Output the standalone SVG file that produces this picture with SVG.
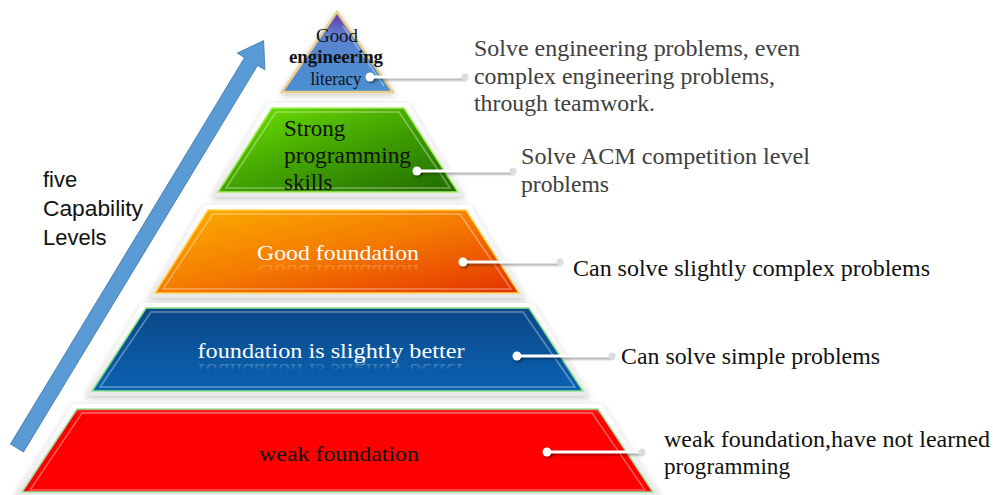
<svg xmlns="http://www.w3.org/2000/svg" width="993" height="495" viewBox="0 0 993 495">
  <defs>
    <style>
      .serif { font-family: "Liberation Serif", "Times New Roman", serif; }
      .sans { font-family: "Liberation Sans", Arial, sans-serif; }
      .plate { fill: url(#plateGrad); filter: url(#plateShadow); }
      .bevel { fill: none; stroke: #ffffff; stroke-opacity: 0.35; stroke-width: 1.5; }
      .note { font-size: 23px; fill: #404040; }
      .noteDark { font-size: 23px; fill: #111111; }
      .link { stroke: #ffffff; stroke-width: 3; stroke-linecap: round; }
      .linkShade { stroke: #000000; stroke-opacity: 0.35; stroke-width: 3; stroke-linecap: round; filter: url(#soft); }
      .dotA { fill: #ffffff; }
      .dotB { fill: #dddddd; }
      .dotShade { fill: #000000; fill-opacity: 0.35; filter: url(#soft); }
    </style>
    <filter id="plateShadow" x="-10%" y="-20%" width="120%" height="150%">
      <feDropShadow dx="0" dy="2" stdDeviation="3" flood-color="#000" flood-opacity="0.22"/>
    </filter>
    <filter id="soft" filterUnits="userSpaceOnUse" x="0" y="0" width="993" height="495">
      <feGaussianBlur stdDeviation="1"/>
    </filter>
    <linearGradient id="plateGrad" x1="0" y1="0" x2="0" y2="1">
      <stop offset="0" stop-color="#ffffff"/>
      <stop offset="1" stop-color="#e9e9e9"/>
    </linearGradient>
    <linearGradient id="topGrad" x1="0" y1="0" x2="0" y2="1">
      <stop offset="0" stop-color="#6a35a6"/>
      <stop offset="0.3" stop-color="#5b82cf"/>
      <stop offset="1" stop-color="#4a8fd2"/>
    </linearGradient>
    <linearGradient id="greenGrad" x1="0" y1="0" x2="1" y2="1">
      <stop offset="0" stop-color="#72e600"/>
      <stop offset="0.45" stop-color="#45a800"/>
      <stop offset="1" stop-color="#1f6a00"/>
    </linearGradient>
    <linearGradient id="orangeGrad" x1="0" y1="0" x2="1" y2="1">
      <stop offset="0" stop-color="#fbb000"/>
      <stop offset="0.5" stop-color="#f47a00"/>
      <stop offset="1" stop-color="#e43200"/>
    </linearGradient>
    <linearGradient id="blueGrad" x1="0" y1="0" x2="0" y2="1">
      <stop offset="0" stop-color="#0b4888"/>
      <stop offset="1" stop-color="#0a62b2"/>
    </linearGradient>
    <linearGradient id="redGrad" x1="0" y1="0" x2="0" y2="1">
      <stop offset="0" stop-color="#ff2a2a"/>
      <stop offset="0.08" stop-color="#ff0000"/>
      <stop offset="1" stop-color="#ff0000"/>
    </linearGradient>
    <linearGradient id="reflect" x1="0" y1="0" x2="0" y2="1">
      <stop offset="0" stop-color="#ffffff" stop-opacity="0"/>
      <stop offset="0.55" stop-color="#ffffff" stop-opacity="0"/>
      <stop offset="1" stop-color="#ffffff" stop-opacity="0.5"/>
    </linearGradient>
  </defs>

  <rect width="993" height="495" fill="#ffffff"/>

  <!-- rising arrow on the left -->
  <g id="arrow">
    <polygon transform="translate(17,448) rotate(-58.8)"
             points="0,-7.5 452,-7.5 452,-16 476,0 452,16 452,7.5 0,7.5"
             fill="#5b9bd5" stroke="#4a84bb" stroke-width="1"/>
  </g>

  <g id="levels-label" class="sans" font-size="22" fill="#111">
    <text x="43" y="187">five</text>
    <text x="43" y="216" textLength="100" lengthAdjust="spacingAndGlyphs">Capability</text>
    <text x="43" y="245">Levels</text>
  </g>

  <!-- level 5: top triangle -->
  <g id="level5">
    <polygon points="337,12 393,92 282,92" fill="url(#topGrad)" stroke="#e8cd8c" stroke-width="2.5" filter="url(#plateShadow)"/>
    <line x1="343" y1="26" x2="384" y2="86" stroke="#ffffff" stroke-opacity="0.35" stroke-width="1.5"/>
    <g class="serif" text-anchor="middle" fill="#111" font-size="18">
      <text x="337" y="42" textLength="42" lengthAdjust="spacingAndGlyphs">Good</text>
      <text x="336" y="63" font-weight="bold" textLength="94" lengthAdjust="spacingAndGlyphs">engineering</text>
      <text x="336" y="85" textLength="51" lengthAdjust="spacingAndGlyphs">literacy</text>
    </g>
  </g>

  <!-- level 4 -->
  <g id="level4">
    <polygon class="plate" points="268,103 408,103 465,197 211,197"/>
    <polygon points="272,108 404,108 458,192 218,192" fill="url(#greenGrad)" stroke="#a6ee66" stroke-width="1.5"/>
    <polygon class="bevel" points="276,112 399,112 450,188 226,188"/>
    <g class="serif" fill="#111" font-size="23">
      <text x="284" y="136">Strong</text>
      <text x="284" y="163" textLength="127" lengthAdjust="spacingAndGlyphs">programming</text>
      <text x="284" y="190">skills</text>
    </g>
  </g>

  <!-- level 3 -->
  <g id="level3">
    <polygon class="plate" points="204,205 470,205 526,298 148,298"/>
    <polygon points="208,210 466,210 519,293 155,293" fill="url(#orangeGrad)" stroke="#ffd24a" stroke-width="1.5"/>
    <polygon class="bevel" points="213,214 460,214 511,289 163,289"/>
    <g class="serif" font-size="22" text-anchor="middle">
      <text x="338" y="260" fill="#ffffff" textLength="162" lengthAdjust="spacingAndGlyphs">Good foundation</text>
      <text x="338" y="-265" transform="scale(1,-1)" fill="url(#reflect)" textLength="162" lengthAdjust="spacingAndGlyphs">Good foundation</text>
    </g>
  </g>

  <!-- level 2 -->
  <g id="level2">
    <polygon class="plate" points="142,303 533,303 590,396 85,396"/>
    <polygon points="146,308 529,308 583,391 92,391" fill="url(#blueGrad)" stroke="#8fe38f" stroke-width="1.5"/>
    <polygon class="bevel" points="151,312 523,312 575,387 100,387"/>
    <g class="serif" font-size="22" text-anchor="middle">
      <text x="331" y="358" fill="#ffffff" textLength="267" lengthAdjust="spacingAndGlyphs">foundation is slightly  better</text>
      <text x="331" y="-364" transform="scale(1,-1)" fill="url(#reflect)" textLength="267" lengthAdjust="spacingAndGlyphs">foundation is slightly  better</text>
    </g>
  </g>

  <!-- level 1 -->
  <g id="level1">
    <polygon class="plate" points="73,404 602,404 661,497 14,497"/>
    <polygon points="77,409 598,409 653,492 22,492" fill="url(#redGrad)" stroke="#9be39b" stroke-width="1.5"/>
    <polygon class="bevel" points="82,413 592,413 645,490 30,490"/>
    <text class="serif" x="339" y="461" font-size="22" fill="#111" text-anchor="middle" textLength="160" lengthAdjust="spacingAndGlyphs">weak foundation</text>
  </g>

  <!-- callout connectors: soft shadow, white bar, end dots -->
  <g id="connectors">
    <g transform="translate(1.5,2)">
      <line class="linkShade" x1="370" y1="77" x2="464" y2="77"/>
      <line class="linkShade" x1="417" y1="171" x2="512" y2="171"/>
      <line class="linkShade" x1="463" y1="262" x2="559" y2="262"/>
      <line class="linkShade" x1="517" y1="356" x2="611" y2="356"/>
      <line class="linkShade" x1="547" y1="452" x2="641" y2="452"/>
      <circle class="dotShade" cx="370" cy="77" r="4.5"/>
      <circle class="dotShade" cx="417" cy="171" r="4.5"/>
      <circle class="dotShade" cx="463" cy="262" r="4.5"/>
      <circle class="dotShade" cx="517" cy="356" r="4.5"/>
      <circle class="dotShade" cx="547" cy="452" r="4.5"/>
    </g>
    <line class="link" x1="370" y1="77" x2="464" y2="77"/>
    <line class="link" x1="417" y1="171" x2="512" y2="171"/>
    <line class="link" x1="463" y1="262" x2="559" y2="262"/>
    <line class="link" x1="517" y1="356" x2="611" y2="356"/>
    <line class="link" x1="547" y1="452" x2="641" y2="452"/>
    <circle class="dotA" cx="370" cy="77" r="4.5"/>
    <circle class="dotA" cx="417" cy="171" r="4.5"/>
    <circle class="dotA" cx="463" cy="262" r="4.5"/>
    <circle class="dotA" cx="517" cy="356" r="4.5"/>
    <circle class="dotA" cx="547" cy="452" r="4.5"/>
    <circle class="dotB" cx="465" cy="77" r="3.5"/>
    <circle class="dotB" cx="513" cy="171" r="3.5"/>
    <circle class="dotB" cx="560" cy="262" r="3.5"/>
    <circle class="dotB" cx="612" cy="356" r="3.5"/>
    <circle class="dotB" cx="642" cy="452" r="3.5"/>
  </g>

  <!-- descriptions -->
  <g id="desc5" class="serif note">
    <text x="474" y="56" textLength="326" lengthAdjust="spacingAndGlyphs">Solve engineering problems, even</text>
    <text x="474" y="84" textLength="301" lengthAdjust="spacingAndGlyphs">complex engineering problems,</text>
    <text x="474" y="111" textLength="181" lengthAdjust="spacingAndGlyphs">through teamwork.</text>
  </g>
  <g id="desc4" class="serif note">
    <text x="521" y="164" textLength="289" lengthAdjust="spacingAndGlyphs">Solve ACM competition level</text>
    <text x="521" y="192" textLength="88" lengthAdjust="spacingAndGlyphs">problems</text>
  </g>
  <g id="desc3" class="serif noteDark">
    <text x="573" y="276" textLength="357" lengthAdjust="spacingAndGlyphs">Can solve slightly  complex problems</text>
  </g>
  <g id="desc2" class="serif noteDark">
    <text x="621" y="364" textLength="259" lengthAdjust="spacingAndGlyphs">Can solve simple problems</text>
  </g>
  <g id="desc1" class="serif noteDark">
    <text x="664" y="447" textLength="326" lengthAdjust="spacingAndGlyphs">weak foundation,have not learned</text>
    <text x="664" y="474" textLength="126" lengthAdjust="spacingAndGlyphs">programming</text>
  </g>
</svg>
